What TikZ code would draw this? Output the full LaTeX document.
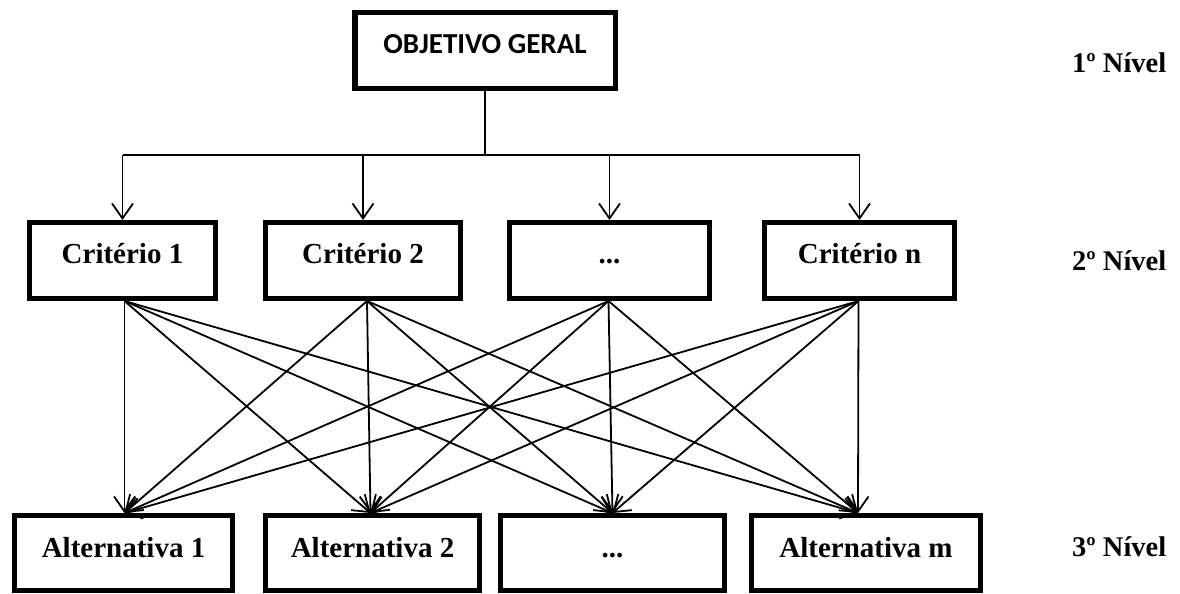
\documentclass[tikz,border=0pt]{standalone}
\usepackage{fontspec}
\setmainfont{Liberation Serif}
\newfontfamily\headfont{Carlito}
\usetikzlibrary{arrows.meta}

\begin{document}
\begin{tikzpicture}[x=1pt,y=-1pt,
  box/.style={draw, line width=5pt, rectangle, inner sep=0pt, align=center,
    font=\fontsize{29}{34}\selectfont\bfseries},
  crit/.style={box, text height=40.8pt, text depth=35.2pt},
  alt/.style={box, text height=41.8pt, text depth=33.2pt},
  conn/.style={line width=1.8pt, -{Straight Barb[length=15pt,width=21pt]}},
  wire/.style={line width=1.8pt},
  level/.style={anchor=base west, inner sep=0pt,
    font=\fontsize{28.5}{32}\selectfont\bfseries}]

\useasboundingbox (0,0) rectangle (1180,594);

% goal
\node[box, line width=5.5pt, minimum width=260.5pt, text height=40.25pt, text depth=35.25pt,
  font=\headfont\fontsize{29}{34}\selectfont\bfseries] (top) at (485,50.5) {OBJETIVO GERAL};

% criteria
\node[crit, minimum width=186pt] (c1) at (122.5,260.5) {Critério 1};
\node[crit, minimum width=195pt] (c2) at (363,260.5) {Critério 2};
\node[crit, minimum width=200pt] (c3) at (609.5,260.5) {...};
\node[crit, minimum width=190pt] (c4) at (859.5,260.5) {Critério n};

% alternatives
\node[alt, minimum width=218pt] (a1) at (123.5,553) {Alternativa 1};
\node[alt, minimum width=214pt] (a2) at (372.5,553) {Alternativa 2};
\node[alt, minimum width=224pt] (a3) at (612.5,553) {...};
\node[alt, minimum width=229pt] (a4) at (866,553) {Alternativa m};

% level labels
\node[level] (n1) at (1072,72) {1º Nível};
\node[level] (n2) at (1072,270) {2º Nível};
\node[level] (n3) at (1072,556) {3º Nível};

% goal to criteria
\coordinate (bus) at (0,155);
\draw[wire] (top.south) -- (top.south |- bus);
\draw[wire] (c1.north |- bus) -- (c4.north |- bus);
\foreach \c in {c1,c2,c3,c4}
  \draw[conn] (\c.north |- bus) -- (\c.north);

% criteria to alternatives
\foreach \c/\cx in {c1/2,c2/4,c3/-1,c4/-1}
  \foreach \a/\ax in {a1/1,a2/-2,a3/0,a4/-8}
    \draw[conn] ([xshift=\cx pt]\c.south) -- ([xshift=\ax pt]\a.north);

\end{tikzpicture}
\end{document}
